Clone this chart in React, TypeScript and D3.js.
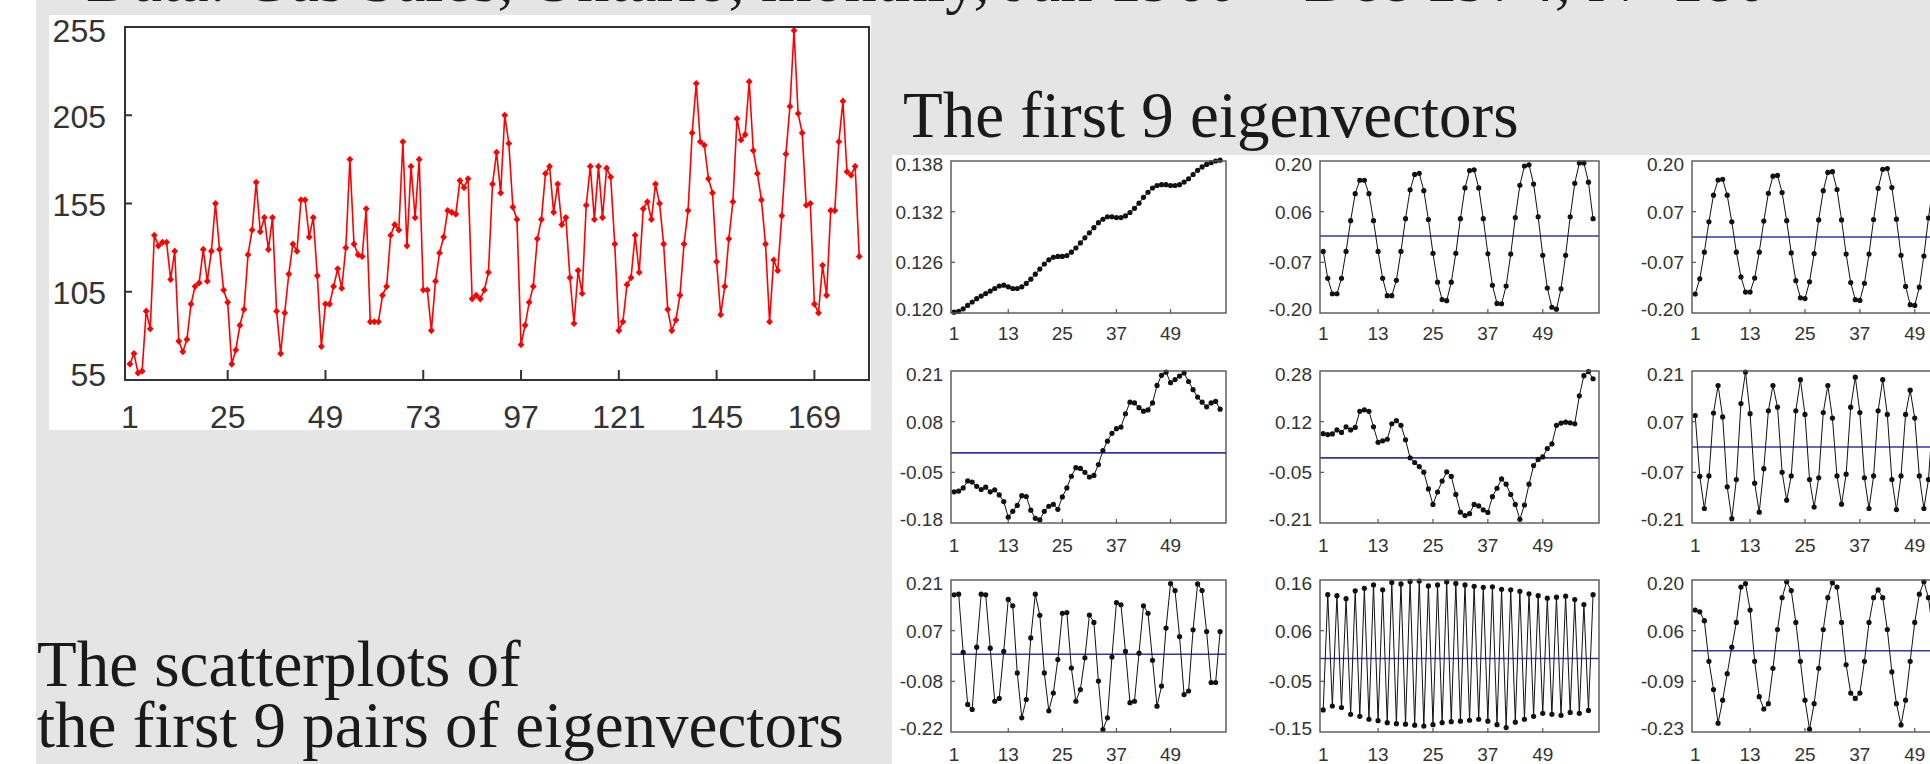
import React from 'react';
import * as d3 from 'd3';

// ---------- data ----------
const titleText = 'Data: Gas Sales, Ontario, monthly, Jan 1960 \u2013 Dec 1974, N=180';
const eigenTitle = 'The first 9 eigenvectors';
const scatterTitle1 = 'The scatterplots of';
const scatterTitle2 = 'the first 9 pairs of eigenvectors';

const mainXTicks = [1, 25, 49, 73, 97, 121, 145, 169];
const mainYTicks = [55, 105, 155, 205, 255];

const salesValues = [
  64, 70, 59, 60, 94, 84, 137, 131, 133, 133,
  112, 128, 77, 71, 78, 98, 108, 110, 129, 111,
  128, 155, 129, 106, 99, 64, 72, 86, 95, 126,
  140, 167, 139, 147, 129, 147, 94, 70, 93, 115,
  132, 128, 157, 157, 136, 147, 114, 74, 98, 98,
  108, 118, 107, 130, 180, 132, 126, 125, 152, 88,
  88, 88, 103, 108, 137, 143, 140, 190, 131, 176,
  147, 180, 106, 106, 83, 111, 127, 136, 151, 150,
  149, 168, 164, 169, 101, 103, 101, 106, 116, 166,
  184, 161, 205, 189, 153, 146, 75, 86, 99, 108,
  135, 146, 172, 176, 150, 166, 143, 147, 113, 87,
  117, 104, 154, 176, 146, 176, 147, 175, 170, 132,
  83, 88, 109, 113, 137, 116, 152, 156, 146, 166,
  155, 132, 95, 83, 89, 103, 132, 151, 195, 223,
  190, 188, 169, 161, 122, 92, 108, 135, 156, 203,
  191, 194, 224, 185, 172, 157, 132, 88, 123, 117,
  148, 183, 210, 253, 206, 195, 154, 155, 98, 93,
  120, 103, 151, 151, 190, 213, 173, 171, 176, 125,
];

const eigXTicks = [1, 13, 25, 37, 49];

const eig1 = [
  0.1201, 0.1202, 0.1205, 0.1209, 0.1213, 0.1217, 0.1220, 0.1223, 0.1226, 0.1229,
  0.1232, 0.1233, 0.1231, 0.1229, 0.1229, 0.1231, 0.1235, 0.1240, 0.1246, 0.1252,
  0.1258, 0.1263, 0.1266, 0.1267, 0.1267, 0.1268, 0.1272, 0.1277, 0.1283, 0.1289,
  0.1295, 0.1301, 0.1307, 0.1311, 0.1314, 0.1314, 0.1313, 0.1313, 0.1315, 0.1319,
  0.1324, 0.1330, 0.1337, 0.1343, 0.1348, 0.1351, 0.1352, 0.1352, 0.1351, 0.1351,
  0.1352, 0.1355, 0.1359, 0.1364, 0.1369, 0.1373, 0.1376, 0.1378, 0.1380, 0.1381,
];
const eig2 = [
  -0.04, -0.11, -0.15, -0.15, -0.11, -0.04, 0.04, 0.11, 0.145, 0.145,
  0.11, 0.04, -0.04, -0.11, -0.155, -0.155, -0.115, -0.04, 0.045, 0.12,
  0.16, 0.163, 0.118, 0.043, -0.045, -0.12, -0.165, -0.168, -0.12, -0.045,
  0.045, 0.125, 0.17, 0.172, 0.125, 0.045, -0.046, -0.128, -0.175, -0.176,
  -0.13, -0.047, 0.048, 0.132, 0.182, 0.185, 0.135, 0.05, -0.05, -0.135,
  -0.185, -0.19, -0.137, -0.05, 0.05, 0.137, 0.19, 0.19, 0.14, 0.045,
];
const eig3 = [
  -0.15, -0.11, -0.04, 0.04, 0.11, 0.15, 0.152, 0.11, 0.04, -0.04,
  -0.105, -0.145, -0.145, -0.108, -0.04, 0.042, 0.115, 0.16, 0.162, 0.117,
  0.043, -0.042, -0.115, -0.16, -0.162, -0.118, -0.044, 0.045, 0.122, 0.17,
  0.172, 0.125, 0.045, -0.045, -0.12, -0.165, -0.167, -0.122, -0.045, 0.046,
  0.128, 0.178, 0.18, 0.13, 0.047, -0.048, -0.13, -0.178, -0.18, -0.132,
  -0.05, 0.05, 0.135, 0.185, 0.187, 0.137, 0.05, -0.05, -0.135, -0.18,
];
const eig4 = [
  -0.100, -0.098, -0.090, -0.072, -0.075, -0.086, -0.094, -0.088, -0.100, -0.095,
  -0.108, -0.125, -0.165, -0.150, -0.135, -0.110, -0.112, -0.147, -0.168, -0.172,
  -0.150, -0.137, -0.132, -0.145, -0.113, -0.090, -0.060, -0.038, -0.040, -0.050,
  -0.062, -0.058, -0.030, 0.006, 0.030, 0.050, 0.062, 0.066, 0.100, 0.130,
  0.128, 0.116, 0.107, 0.110, 0.128, 0.173, 0.199, 0.207, 0.180, 0.188,
  0.197, 0.205, 0.183, 0.162, 0.143, 0.130, 0.118, 0.128, 0.132, 0.112,
];
const eig5 = [
  0.078, 0.075, 0.077, 0.090, 0.082, 0.100, 0.090, 0.098, 0.150, 0.155,
  0.150, 0.100, 0.050, 0.055, 0.060, 0.110, 0.120, 0.105, 0.058, 0.000,
  -0.015, -0.028, -0.046, -0.100, -0.150, -0.110, -0.075, -0.045, -0.060, -0.118,
  -0.175, -0.186, -0.180, -0.150, -0.155, -0.168, -0.176, -0.125, -0.098, -0.068,
  -0.085, -0.118, -0.150, -0.198, -0.152, -0.085, -0.025, -0.005, 0.003, 0.030,
  0.045, 0.105, 0.112, 0.115, 0.113, 0.110, 0.200, 0.265, 0.278, 0.255,
];
const eig6 = [
  0.087, -0.081, -0.170, -0.080, 0.094, 0.170, 0.083, -0.110, -0.198, -0.090,
  0.120, 0.207, 0.092, -0.100, -0.180, -0.060, 0.100, 0.170, 0.110, -0.070,
  -0.147, -0.080, 0.100, 0.186, 0.090, -0.090, -0.166, -0.085, 0.095, 0.170,
  0.080, -0.080, -0.158, -0.075, 0.110, 0.193, 0.095, -0.085, -0.170, -0.080,
  0.100, 0.186, 0.090, -0.090, -0.173, -0.080, 0.090, 0.157, 0.080, -0.080,
  -0.170, -0.090, 0.090, 0.180, 0.090, -0.080, -0.170, -0.080, 0.090, 0.170,
];
const eig7 = [
  0.168, 0.170, 0.005, -0.142, -0.156, 0.020, 0.170, 0.168, 0.017, -0.133,
  -0.125, 0.008, 0.155, 0.137, -0.053, -0.180, -0.128, 0.046, 0.170, 0.110,
  -0.053, -0.160, -0.110, -0.015, 0.116, 0.118, -0.039, -0.133, -0.100, -0.010,
  0.111, 0.090, -0.076, -0.213, -0.180, -0.008, 0.146, 0.140, 0.008, -0.137,
  -0.133, 0.003, 0.137, 0.116, -0.017, -0.147, -0.090, 0.074, 0.200, 0.180,
  0.050, -0.114, -0.104, 0.069, 0.199, 0.180, 0.064, -0.080, -0.080, 0.064,
];
const eig8 = [
  -0.105, 0.130, -0.097, 0.128, -0.100, 0.122, -0.114, 0.138, -0.118, 0.143,
  -0.124, 0.150, -0.127, 0.140, -0.131, 0.155, -0.133, 0.152, -0.134, 0.157,
  -0.136, 0.158, -0.138, 0.148, -0.135, 0.150, -0.131, 0.156, -0.129, 0.153,
  -0.128, 0.150, -0.126, 0.147, -0.124, 0.145, -0.128, 0.146, -0.135, 0.141,
  -0.141, 0.140, -0.130, 0.137, -0.124, 0.132, -0.118, 0.128, -0.112, 0.123,
  -0.114, 0.125, -0.116, 0.127, -0.110, 0.120, -0.112, 0.110, -0.106, 0.130,
];
const eig9 = [
  0.115, 0.110, 0.085, -0.030, -0.110, -0.205, -0.140, -0.065, 0.010, 0.080,
  0.180, 0.190, 0.115, -0.030, -0.130, -0.165, -0.150, -0.050, 0.060, 0.150,
  0.195, 0.170, 0.080, -0.030, -0.140, -0.222, -0.150, -0.050, 0.060, 0.150,
  0.192, 0.180, 0.080, -0.040, -0.120, -0.135, -0.120, -0.030, 0.080, 0.150,
  0.172, 0.150, 0.060, -0.060, -0.150, -0.210, -0.140, -0.030, 0.080, 0.160,
  0.195, 0.150, 0.050, -0.060, -0.150, -0.200, -0.140, -0.030, 0.080, 0.150,
];

const eigDomains = [
  [0.120, 0.138], [-0.20, 0.195], [-0.20, 0.20],
  [-0.18, 0.21], [-0.21, 0.28], [-0.21, 0.21],
  [-0.22, 0.21], [-0.15, 0.16], [-0.23, 0.20],
];
const eigYLabels = [
  ['0.138', '0.132', '0.126', '0.120'],
  ['0.20', '0.06', '-0.07', '-0.20'],
  ['0.20', '0.07', '-0.07', '-0.20'],
  ['0.21', '0.08', '-0.05', '-0.18'],
  ['0.28', '0.12', '-0.05', '-0.21'],
  ['0.21', '0.07', '-0.07', '-0.21'],
  ['0.21', '0.07', '-0.08', '-0.22'],
  ['0.16', '0.06', '-0.05', '-0.15'],
  ['0.20', '0.06', '-0.09', '-0.23'],
];
const eigZeroLine = [false, true, true, true, true, true, true, true, true];
const eigSeries = [eig1, eig2, eig3, eig4, eig5, eig6, eig7, eig8, eig9];

// ---------- layout ----------
const W = 1930;
const H = 764;
const BG = '#e5e5e5';
const SANS = '"Liberation Sans", Arial, sans-serif';
const SERIF = '"Liberation Serif", "Times New Roman", serif';

const colLeft = [951, 1320, 1692];
const colWidth = [275, 279, 279];
const rowTop = [161, 371, 580];
const rowHeight = 152;

function MainChart() {
  const x = d3.scaleLinear().domain([-0.2, 182.4]).range([125, 869]);
  const y = d3.scaleLinear().domain([55, 255]).range([380, 27]);
  const pts = salesValues.map((v, i) => [x(i + 1), y(v)] as [number, number]);
  const line = d3.line()(pts) || '';
  return (
    <g>
      <rect x={49} y={15} width={822} height={415} fill="#ffffff" />
      <path d={line} fill="none" stroke="#ff0000" strokeWidth={1.6} />
      {pts.map((p, i) => (
        <path key={i} d={`M${p[0]},${p[1] - 3.6}L${p[0] + 3.4},${p[1]}L${p[0]},${p[1] + 3.6}L${p[0] - 3.4},${p[1]}Z`} fill="#ff0000" />
      ))}
      <rect x={125} y={27} width={744} height={353} fill="none" stroke="#333" strokeWidth={2} />
      {mainYTicks.map((t) => (
        <g key={t}>
          {t !== 55 && t !== 255 && <line x1={125} x2={132} y1={y(t)} y2={y(t)} stroke="#333" strokeWidth={2} />}
          <text x={106} y={y(t) + 11.5 + (t === 255 ? 3 : t === 55 ? -6 : 1)} textAnchor="end" fontFamily={SANS} fontSize={32} fill="#333">{t}</text>
        </g>
      ))}
      {mainXTicks.map((t) => (
        <g key={t}>
          {t !== 1 && <line x1={x(t)} x2={x(t)} y1={380} y2={370} stroke="#333" strokeWidth={2} />}
          <text x={x(t)} y={427.5} textAnchor="middle" fontFamily={SANS} fontSize={32} fill="#333">{t}</text>
        </g>
      ))}
    </g>
  );
}

function EigenPanel({ idx }: { idx: number }) {
  const col = idx % 3;
  const row = Math.floor(idx / 3);
  const left = colLeft[col];
  const w = colWidth[col];
  const top = rowTop[row];
  const h = rowHeight;
  const dom = eigDomains[idx];
  const x = d3.scaleLinear().domain([0.3, 61.3]).range([left, left + w]);
  const y = d3.scaleLinear().domain(dom).range([top + h, top]);
  const data = eigSeries[idx];
  const pts = data.map((v, i) => [x(i + 1), y(v)] as [number, number]);
  const line = d3.line()(pts) || '';
  const yTickVals = [0, 1, 2, 3].map((k) => dom[1] - (k * (dom[1] - dom[0])) / 3);
  return (
    <g>
      {eigZeroLine[idx] && (
        <line x1={left} x2={left + w} y1={y(0)} y2={y(0)} stroke="#3535a8" strokeWidth={1.6} />
      )}
      <path d={line} fill="none" stroke="#111" strokeWidth={1} />
      {pts.map((p, i) => (
        <circle key={i} cx={p[0]} cy={p[1]} r={2.6} fill="#111" />
      ))}
      <rect x={left} y={top} width={w} height={h} fill="none" stroke="#555" strokeWidth={1.4} />
      {yTickVals.map((v, k) => (
        <g key={k}>
          {k > 0 && k < 3 && <line x1={left} x2={left + 4} y1={y(v)} y2={y(v)} stroke="#555" strokeWidth={1.2} />}
          <text x={left - 8} y={y(v) + 7 + (k === 0 ? 3 : k === 3 ? -4 : 0)} textAnchor="end" fontFamily={SANS} fontSize={19} fill="#333">{eigYLabels[idx][k]}</text>
        </g>
      ))}
      {eigXTicks.map((t) => (
        <g key={t}>
          {t !== 1 && <line x1={x(t)} x2={x(t)} y1={top + h} y2={top + h - 4} stroke="#555" strokeWidth={1.2} />}
          <text x={x(t)} y={top + h + (row === 0 ? 27 : 29)} textAnchor="middle" fontFamily={SANS} fontSize={19} fill="#333">{t}</text>
        </g>
      ))}
    </g>
  );
}

export default function App() {
  return (
    <svg width={W} height={H} style={{ position: 'absolute', left: 0, top: 0, display: 'block' }}>
      <rect x={0} y={0} width={W} height={H} fill="#ffffff" />
      <rect x={36} y={0} width={W - 36} height={H} fill={BG} />
      <text x={86} y={0.5} fontFamily={SERIF} fontSize={65} fill="#1a1a1a">{titleText}</text>
      <MainChart />
      <text x={903} y={137} fontFamily={SERIF} fontSize={65} fill="#1a1a1a">{eigenTitle}</text>
      <rect x={892} y={155} width={W - 892} height={H - 155} fill="#ffffff" />
      {eigSeries.map((_, i) => (
        <EigenPanel key={i} idx={i} />
      ))}
      <text x={37} y={686} fontFamily={SERIF} fontSize={65} fill="#1a1a1a">{scatterTitle1}</text>
      <text x={37} y={747} fontFamily={SERIF} fontSize={65} fill="#1a1a1a">{scatterTitle2}</text>
    </svg>
  );
}
